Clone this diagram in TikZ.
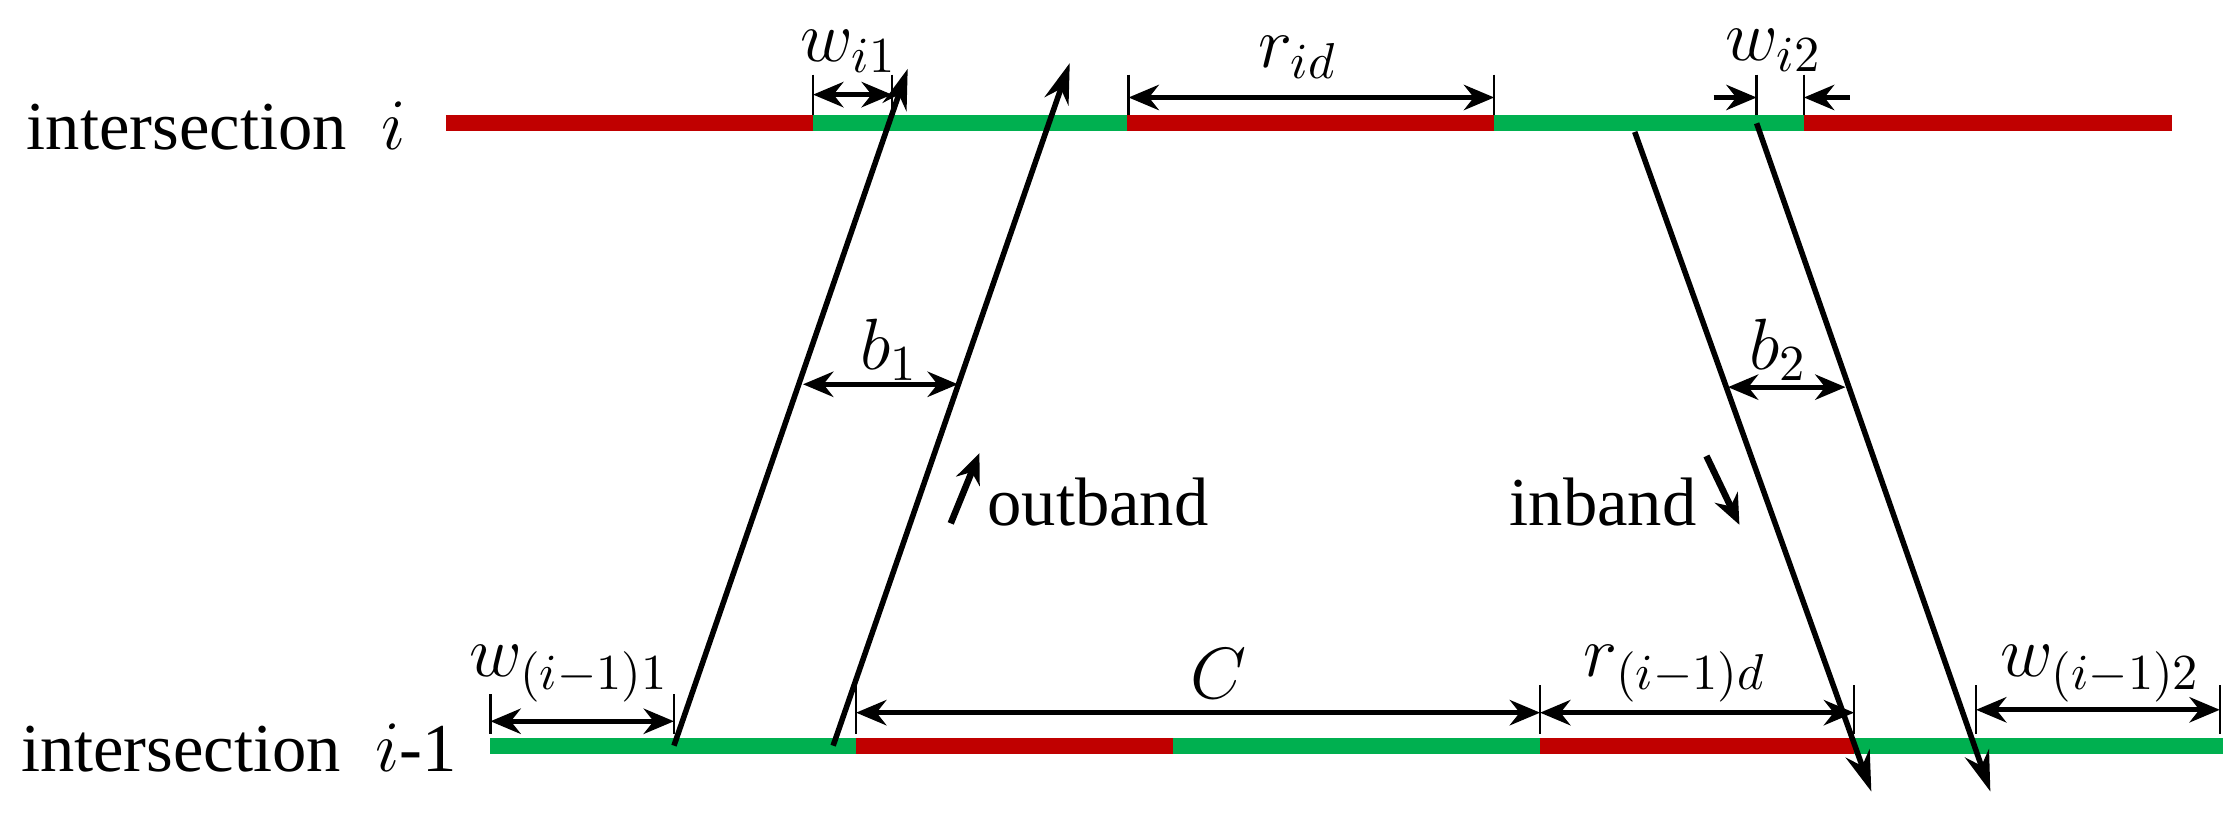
\documentclass[tikz,border=0pt]{standalone}
\usepackage{fontspec}
\setmainfont{Liberation Serif}
\usetikzlibrary{arrows.meta}
\definecolor{rd}{RGB}{192,0,0}
\definecolor{gn}{RGB}{0,176,80}
\begin{document}
\begin{tikzpicture}[x=0.01cm,y=-0.01cm,
  bar/.style={line width=3.2pt},
  sig/.style={line width=1.1pt,-{Stealth[length=8pt,width=5pt]}},
  dim/.style={line width=1pt,{Stealth[length=6pt,width=5pt]}-{Stealth[length=6pt,width=5pt]}},
  one/.style={line width=1pt,-{Stealth[length=6pt,width=5pt]}},
  tick/.style={line width=0.5pt},
  lab/.style={font=\fontsize{13.6}{16}\selectfont, inner sep=0pt},
  ml/.style={font=\fontsize{14.5}{16}\selectfont, inner sep=0pt}]
\useasboundingbox (0,0) rectangle (1560,568);
% labels
\node[lab,anchor=west] (li) at (18,88) {intersection~ $i$};
\node[lab,anchor=west] (lj) at (14,522) {intersection~ $i$-1};
% top bar
\draw[bar,rd] (311,86) -- (567,86);
\draw[bar,gn] (567,86) -- (786,86);
\draw[bar,rd] (786,86) -- (1042,86);
\draw[bar,gn] (1042,86) -- (1258,86);
\draw[bar,rd] (1258,86) -- (1515,86);
% bottom bar
\draw[bar,gn] (342,520) -- (597,520);
\draw[bar,rd] (597,520) -- (818,520);
\draw[bar,gn] (818,520) -- (1074,520);
\draw[bar,rd] (1074,520) -- (1293,520);
\draw[bar,gn] (1293,520) -- (1550,520);
% trajectories
\coordinate (o1a) at (470,520); \coordinate (o1b) at (633,48);
\coordinate (o2a) at (581,520); \coordinate (o2b) at (746,44);
\coordinate (i1a) at (1140,92); \coordinate (i1b) at (1305,552);
\coordinate (i2a) at (1225,86); \coordinate (i2b) at (1388,552);
\draw[sig] (o1a) -- (o1b);
\draw[sig] (o2a) -- (o2b);
\draw[sig] (i1a) -- (i1b);
\draw[sig] (i2a) -- (i2b);
% top dims
\draw[tick] (567,52) -- (567,80) (622,52) -- (622,80);
\coordinate (wa) at (567,66); \coordinate (wb) at (622,66);
\draw[dim] (wa) -- (wb);
\node[ml] (wi1) at (592,36) {$w_{i1}$};
\draw[tick] (787,52) -- (787,80) (1042,52) -- (1042,80);
\coordinate (ra) at (787,68); \coordinate (rb) at (1042,68);
\draw[dim] (ra) -- (rb);
\node[ml] (rid) at (905,40) {$r_{id}$};
\draw[tick] (1225,52) -- (1225,80) (1258,52) -- (1258,80);
\coordinate (w2a) at (1195,68); \coordinate (w2b) at (1225,68);
\coordinate (w2c) at (1290,68); \coordinate (w2d) at (1258,68);
\draw[one] (w2a) -- (w2b);
\draw[one] (w2c) -- (w2d);
\node[ml] (wi2) at (1237,35) {$w_{i2}$};
% bandwidths
\coordinate (b1a) at (560,268); \coordinate (b1b) at (668,268);
\draw[dim] (b1a) -- (b1b);
\node[ml] (b1) at (620,244) {$b_1$};
\coordinate (b2a) at (1205,270); \coordinate (b2b) at (1287,270);
\draw[dim] (b2a) -- (b2b);
\node[ml] (b2) at (1240,244) {$b_2$};
% direction labels
\coordinate (oa) at (663,365); \coordinate (ob) at (683,316);
\draw[one,line width=1.3pt] (oa) -- (ob);
\node[lab,anchor=west] (ot) at (688,350) {outband};
\coordinate (ia) at (1190,318); \coordinate (ib) at (1213,366);
\draw[one,line width=1.3pt] (ia) -- (ib);
\node[lab] (it) at (1118,350) {inband};
% bottom dims
\draw[tick] (342,484) -- (342,512) (470,484) -- (470,512);
\coordinate (xa) at (342,503); \coordinate (xb) at (470,503);
\draw[dim] (xa) -- (xb);
\node[ml] (wj1) at (397,470) {$w_{(i-1)1}$};
\draw[tick] (597,478) -- (597,512) (1074,478) -- (1074,512) (1293,478) -- (1293,512) (1378,478) -- (1378,512) (1548,478) -- (1548,512);
\coordinate (ca) at (597,497); \coordinate (cb) at (1074,497);
\draw[dim] (ca) -- (cb);
\node[ml] (C) at (850,470) {$C$};
\coordinate (da) at (1074,497); \coordinate (db) at (1293,497);
\draw[dim] (da) -- (db);
\node[ml] (rj) at (1168,470) {$r_{(i-1)d}$};
\coordinate (ea) at (1378,495); \coordinate (eb) at (1548,495);
\draw[dim] (ea) -- (eb);
\node[ml] (wj2) at (1465,470) {$w_{(i-1)2}$};
\end{tikzpicture}
\end{document}
